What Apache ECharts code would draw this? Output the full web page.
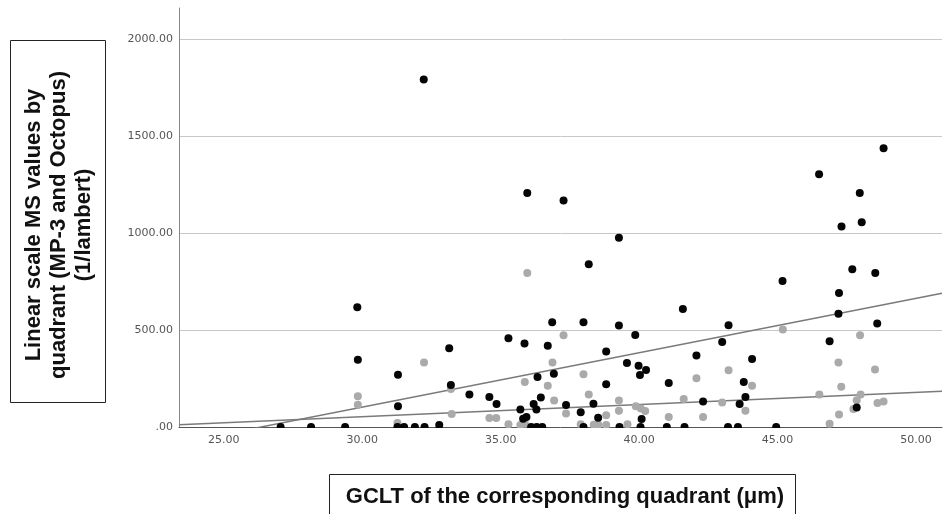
<!DOCTYPE html>
<html>
<head>
<meta charset="utf-8">
<script src="https://cdn.jsdelivr.net/npm/echarts@6/dist/echarts.min.js"></script>
<style>
html,body{margin:0;padding:0;background:#fff;}
#chart{width:944px;height:514px;}
</style>
</head>
<body>
<div id="chart"></div>
<script>
// MS values (black) vs GCLT
const blackPoints = [
[27.05,0],[28.15,0],[29.38,0],[29.82,617],[29.84,347],[31.29,270],[31.29,107],[31.27,0],[31.51,0],[31.9,0],
[32.25,0],[32.22,1792],[32.78,10],[33.14,406],[33.2,216],[33.87,167],[34.59,155],[34.85,119],[35.28,457],[35.86,430],
[35.96,1206],[36.7,419],[36.86,540],[36.92,275],[36.33,258],[36.45,152],[36.19,119],[36.29,90],[35.71,90],[35.93,52],
[35.81,43],[36.1,0],[36.3,0],[36.5,0],[37.27,1167],[37.36,113],[37.89,76],[37.99,540],[37.99,0],[38.18,839],
[38.35,120],[38.52,48],[38.81,389],[38.81,220],[39.27,976],[39.27,523],[39.29,0],[39.56,330],[39.86,474],[39.98,316],
[40.25,294],[40.03,268],[40.09,41],[40.05,0],[41.0,0],[41.07,227],[41.58,608],[41.64,0],[42.07,368],[42.31,132],
[43.0,438],[43.23,524],[43.21,0],[43.57,0],[43.63,119],[43.78,232],[43.84,155],[44.08,351],[44.95,0],[45.18,753],
[46.5,1303],[46.88,442],[47.2,584],[47.22,691],[47.31,1033],[47.7,813],[47.86,100],[47.97,1206],[48.04,1055],[48.53,794],
[48.6,533],[48.83,1437]
];
// MS values (grey) vs GCLT
const greyPoints = [
[29.84,158],[29.84,115],[31.27,21],[32.23,333],[33.2,196],[33.23,67],[34.59,46],[34.84,46],[35.28,14],[35.71,10],
[35.87,17],[35.87,232],[35.96,794],[36.7,213],[36.87,333],[36.93,136],[37.27,473],[37.36,69],[37.89,14],[37.99,272],
[38.18,167],[38.36,12],[38.53,12],[38.81,60],[38.81,10],[39.27,136],[39.27,84],[39.58,14],[39.88,107],[40.06,95],
[40.22,82],[41.07,52],[41.61,144],[42.07,251],[42.31,52],[43.0,126],[43.23,292],[43.84,84],[44.08,213],[45.19,502],
[46.51,167],[46.88,17],[47.2,333],[47.22,64],[47.3,208],[47.74,93],[47.86,138],[47.98,473],[48.0,167],[48.52,297],
[48.61,124],[48.83,132]
];
// fit lines (endpoints at axis extent)
const fitBlack = [[23.38,-83],[50.94,689]];
const fitGrey = [[23.38,12],[50.94,184]];
const xRange = [23.38, 50.94];
const yRange = [0, 2160];
const yTitleLines = ['Linear scale MS values by','quadrant (MP-3 and Octopus)','(1/lambert)'];
const xTitle = 'GCLT of the corresponding quadrant (\u03bcm)';

const chart = echarts.init(document.getElementById('chart'), null, {renderer:'canvas'});
const fmt = v => v === 0 ? '.00' : v.toFixed(2);
chart.setOption({
  animation:false,
  backgroundColor:'#fff',
  grid:{left:179,right:2,top:8,bottom:87},
  xAxis:{
    type:'value', min:xRange[0], max:xRange[1],
    axisLine:{show:true,onZero:false,lineStyle:{color:'#555',width:1}},
    axisTick:{show:false},
    splitLine:{show:false},
    axisLabel:{showMinLabel:false,showMaxLabel:false,formatter:fmt,color:'#555',fontFamily:'DejaVu Sans',fontSize:11,margin:8}
  },
  yAxis:{
    type:'value', min:yRange[0], max:yRange[1], interval:500,
    axisLine:{show:true,lineStyle:{color:'#888',width:1}},
    axisTick:{show:false},
    splitLine:{show:true,showMaxLine:false,showMinLine:false,lineStyle:{color:'#c8c8c8',width:1}},
    axisLabel:{showMaxLabel:false,formatter:fmt,color:'#555',fontFamily:'DejaVu Sans',fontSize:11,margin:6}
  },
  series:[
    {type:'line',data:fitBlack,symbol:'none',clip:true,lineStyle:{color:'#7a7a7a',width:1.5},z:1,silent:true},
    {type:'line',data:fitGrey,symbol:'none',clip:true,lineStyle:{color:'#7a7a7a',width:1.5},z:1,silent:true},
    {type:'scatter',data:greyPoints,symbolSize:8,itemStyle:{color:'#aaaaaa',opacity:1},z:2},
    {type:'scatter',data:blackPoints,symbolSize:8,itemStyle:{color:'#050505',opacity:1},z:3}
  ],
  graphic:[
    {type:'rect',shape:{x:179,y:428,width:765,height:6},style:{fill:'#fff'},z:100,silent:true},
    {type:'rect',shape:{x:10.5,y:40.5,width:95,height:362},style:{fill:'none',stroke:'#222',lineWidth:1},z:100},
    {type:'text',x:59,y:225,rotation:Math.PI/2,z:100,
     style:{text:yTitleLines.join('\n'),font:'bold 22px "Liberation Sans", Arial, sans-serif',fill:'#111',
            textAlign:'center',textVerticalAlign:'middle',lineHeight:25}},
    {type:'rect',shape:{x:329.5,y:474.5,width:466,height:45},style:{fill:'none',stroke:'#222',lineWidth:1},z:100},
    {type:'text',x:565,y:497,z:100,
     style:{text:xTitle,font:'bold 22px "Liberation Sans", Arial, sans-serif',fill:'#111',textAlign:'center',textVerticalAlign:'middle'}}
  ]
});
</script>
</body>
</html>
